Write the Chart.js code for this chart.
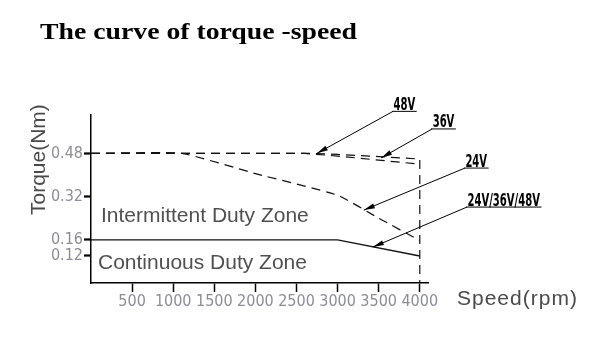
<!DOCTYPE html>
<html>
<head>
<meta charset="utf-8">
<script src="https://cdn.jsdelivr.net/npm/chart.js@4.4.1/dist/chart.umd.min.js"></script>
<style>
  html, body { margin: 0; padding: 0; background: #fff; }
  #wrap { width: 598px; height: 339px; position: relative; }
</style>
</head>
<body>
<div id="wrap"><canvas id="torqueChart"></canvas></div>
<script>
// Torque - speed curve data
const speeds48 = [0, 2700, 3000, 3500, 4000, 4000];
const torque48 = [0.48, 0.48, 0.476, 0.468, 0.459, 0];
const speeds36 = [0, 2600, 3000, 3500, 4000];
const torque36 = [0.48, 0.48, 0.47, 0.455, 0.44];
const speeds24 = [0, 1100, 2000, 3000, 3500, 4000];
const torque24 = [0.48, 0.48, 0.405, 0.325, 0.24, 0.158];
const speedsCont = [0, 3000, 4000];
const torqueCont = [0.16, 0.16, 0.12];

const xTicks = [500, 1000, 1500, 2000, 2500, 3000, 3500, 4000];
const yTicks = [0.48, 0.32, 0.16, 0.12];

// callout labels and where their arrows point
const arrowLabels = ['48V', '36V', '24V', '24V/36V/48V'];
const arrowSpeed = [2750, 3530, 3320, 3430];
const arrowTorque = [0.48, 0.463, 0.27, 0.142];
const arrowOffsets = [[76, -42], [51, -29], [101, -42], [94, -40]]; // px from tip to label

// the drawing's torque axis is not uniform below 0.16 (0.12 sits lower)
const yWarpFrom = [0, 0.12, 0.16, 1];
const yWarpTo = [0, 0.10, 0.16, 1];

function interp(v, from, to) {
    for (let i = 1; i < from.length; i++) {
        if (v <= from[i] || i === from.length - 1) {
            const t = (v - from[i - 1]) / (from[i] - from[i - 1]);
            return to[i - 1] + t * (to[i] - to[i - 1]);
        }
    }
    return v;
}

class PiecewiseScale extends Chart.LinearScale {
    static id = 'piecewise';
    static defaults = Chart.LinearScale.defaults;
    getPixelForValue(value) {
        return super.getPixelForValue(interp(value, yWarpFrom, yWarpTo));
    }
    getValueForPixel(pixel) {
        return interp(super.getValueForPixel(pixel), yWarpTo, yWarpFrom);
    }
}
Chart.register(PiecewiseScale);

const toPoints = (xs, ys) => xs.map((x, i) => ({ x: x, y: ys[i] }));

const tickFont = '"Liberation Sans Narrow", "DejaVu Sans Condensed", sans-serif';

const dashed = {
    borderColor: '#111',
    borderWidth: 1.2,
    borderDash: [9, 6],
    pointRadius: 0,
    fill: false,
    tension: 0
};

// extra texts + callout arrows
const decorPlugin = {
    id: 'decor',
    afterDraw(chart) {
        const ctx = chart.ctx;
        const xs = chart.scales.x, ys = chart.scales.y;
        ctx.save();

        // title (stretched to the drawing's width)
        ctx.fillStyle = '#000';
        ctx.font = 'bold 23px "Liberation Serif", "Times New Roman", serif';
        ctx.textBaseline = 'alphabetic';
        ctx.textAlign = 'left';
        const title = 'The curve of torque -speed';
        const tw = ctx.measureText(title).width;
        ctx.save();
        ctx.translate(40, 39);
        ctx.scale(317 / tw, 1);
        ctx.fillText(title, 0, 0);
        ctx.restore();

        // axis titles
        ctx.fillStyle = '#4a4a4a';
        ctx.font = '21px "Liberation Sans", Arial, sans-serif';
        ctx.letterSpacing = '1px';
        ctx.fillText('Speed(rpm)', 457, 305);
        ctx.letterSpacing = '0px';
        ctx.save();
        ctx.translate(45, 215);
        ctx.rotate(-Math.PI / 2);
        ctx.fillText('Torque(Nm)', 0, 0);
        ctx.restore();

        // zone labels
        ctx.fillStyle = '#505050';
        ctx.fillText('Intermittent Duty Zone', 101, 222);
        ctx.fillText('Continuous Duty Zone', 98, 269);

        // callouts
        ctx.strokeStyle = '#000';
        ctx.fillStyle = '#000';
        ctx.lineWidth = 1;
        ctx.font = 'bold 18px "Liberation Sans Narrow", "DejaVu Sans Condensed", sans-serif';
        arrowLabels.forEach((lab, i) => {
            const tx = xs.getPixelForValue(arrowSpeed[i]);
            const ty = ys.getPixelForValue(arrowTorque[i]);
            const ux = tx + arrowOffsets[i][0];
            const uy = ty + arrowOffsets[i][1];
            const sx = 0.62;
            const w = ctx.measureText(lab).width * sx;

            ctx.beginPath();
            ctx.moveTo(ux - 1, uy);
            ctx.lineTo(ux + w + 2, uy);
            ctx.moveTo(ux, uy);
            ctx.lineTo(tx, ty);
            ctx.stroke();

            // arrow head
            const a = Math.atan2(ty - uy, tx - ux);
            ctx.beginPath();
            ctx.moveTo(tx, ty);
            ctx.lineTo(tx - 11 * Math.cos(a) + 2.5 * Math.sin(a), ty - 11 * Math.sin(a) - 2.5 * Math.cos(a));
            ctx.lineTo(tx - 11 * Math.cos(a) - 2.5 * Math.sin(a), ty - 11 * Math.sin(a) + 2.5 * Math.cos(a));
            ctx.closePath();
            ctx.fill();

            ctx.save();
            ctx.translate(ux + 0.5, uy - 1.5);
            ctx.scale(sx, 1);
            ctx.fillText(lab, 0, 0);
            ctx.restore();
        });
        ctx.restore();
    }
};

new Chart(document.getElementById('torqueChart'), {
    type: 'line',
    data: {
        datasets: [
            Object.assign({ label: '48V', data: toPoints(speeds48, torque48) }, dashed),
            Object.assign({ label: '36V', data: toPoints(speeds36, torque36) }, dashed),
            Object.assign({ label: '24V', data: toPoints(speeds24, torque24) }, dashed, { tension: 0.15 }),
            {
                label: 'Continuous',
                data: toPoints(speedsCont, torqueCont),
                borderColor: '#111',
                borderWidth: 1.3,
                pointRadius: 0,
                fill: false,
                tension: 0
            }
        ]
    },
    options: {
        responsive: true,
        maintainAspectRatio: false,
        animation: false,
        layout: { padding: { top: 115, right: 170, left: 0, bottom: 0 } },
        plugins: {
            legend: { display: false },
            tooltip: { enabled: false }
        },
        scales: {
            x: {
                type: 'linear',
                min: 0,
                max: 4100,
                afterBuildTicks: (scale) => { scale.ticks = xTicks.map(v => ({ value: v })); },
                afterFit: (scale) => { scale.height = 56; },
                border: { display: true, color: '#000', width: 1.5 },
                grid: { display: true, drawOnChartArea: false, drawTicks: true, tickLength: 9, tickWidth: 1.5, tickColor: '#000' },
                ticks: {
                    color: '#8c8c98',
                    padding: 0,
                    maxRotation: 0,
                    font: { family: tickFont, size: 16 },
                    callback: (v) => String(v)
                }
            },
            y: {
                type: 'piecewise',
                min: 0,
                max: 0.622,
                afterBuildTicks: (scale) => { scale.ticks = yTicks.map(v => ({ value: v })); },
                afterFit: (scale) => { scale.width = 91; },
                border: { display: true, color: '#000', width: 1.5 },
                grid: { display: true, drawOnChartArea: false, drawTicks: true, tickLength: 7, tickWidth: 2.2, tickColor: '#000' },
                ticks: {
                    color: '#8c8c98',
                    padding: 1,
                    font: { family: tickFont, size: 16 },
                    callback: (v) => Number(v).toFixed(2)
                }
            }
        }
    },
    plugins: [decorPlugin]
});
</script>
</body>
</html>
